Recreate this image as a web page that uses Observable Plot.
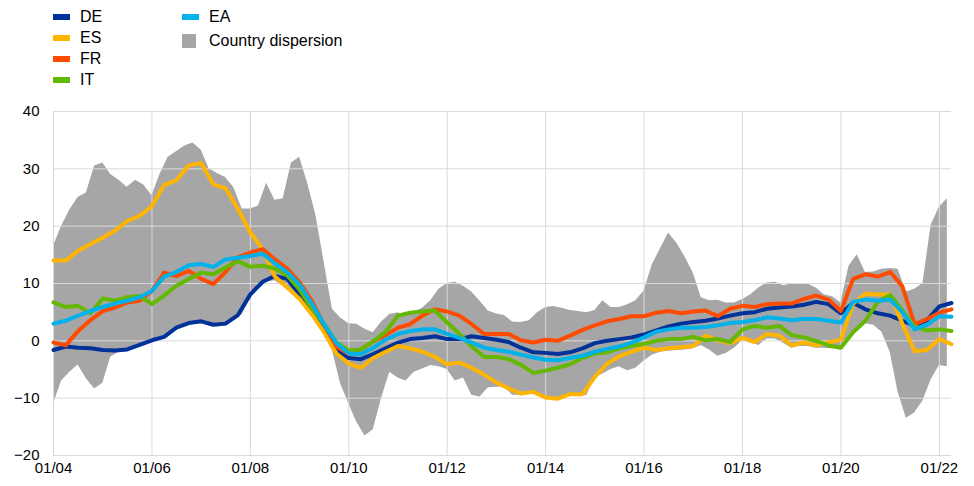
<!DOCTYPE html>
<html>
<head>
<meta charset="utf-8">
<script src="https://cdn.jsdelivr.net/npm/d3@7"></script>
<script src="https://cdn.jsdelivr.net/npm/@observablehq/plot@0.6"></script>
<style>
  body { margin: 0; background: #fff; font-family: "Liberation Sans", Arial, sans-serif; }
  #wrap { width: 974px; }
  #legend { position: relative; width: 974px; height: 95px; font-size: 16px; color: #000; }
  .sw { position: absolute; }
  .lt { position: absolute; line-height: 18px; white-space: nowrap; }
  svg { display: block; }
</style>
</head>
<body>
<div id="wrap">
  <div id="legend"></div>
  <div id="chart"></div>
</div>
<script>
// ---- Data ----
// Lines: quarterly observations starting Jan 2004 (74 quarters, to Apr 2022)
const lineStart = [2004, 0];           // year, month index
const lineStepMonths = 3;
const DE = [-1.6,-1.0,-1.2,-1.3,-1.6,-1.7,-1.5,-0.7,0.1,0.7,
  2.3,3.1,3.4,2.8,3.0,4.5,8.1,10.3,11.3,10.8,
  8.1,5.2,1.8,-1.5,-3.0,-3.2,-2.3,-1.3,-0.3,0.3,
  0.5,0.8,0.3,0.3,0.8,0.5,0.2,-0.2,-1.2,-2.0,
  -2.1,-2.3,-2.0,-1.3,-0.4,0.0,0.3,0.6,1.1,1.8,
  2.5,3.0,3.3,3.5,3.9,4.4,4.8,5.0,5.6,5.8,
  6.0,6.3,6.8,6.4,4.8,6.6,5.5,4.8,4.4,3.5,
  2.7,3.6,6.0,6.6];
const ES = [14.0,14.0,15.7,16.9,18.0,19.2,20.9,21.8,23.5,27.2,
  28.0,30.6,31.0,27.3,26.6,23.0,18.9,16.0,11.2,9.3,
  7.3,4.6,1.5,-2.2,-4.0,-4.7,-3.0,-1.9,-0.9,-1.3,
  -1.9,-2.8,-4.1,-3.8,-4.7,-5.9,-7.3,-8.3,-9.2,-8.9,
  -9.9,-10.1,-9.3,-9.3,-6.3,-4.0,-2.7,-1.9,-1.2,-1.6,
  -1.3,-1.1,-0.9,0.9,0.1,-0.4,0.5,-0.2,1.2,0.9,
  -0.8,-0.3,-0.8,-0.3,0.2,6.5,8.2,8.1,8.1,3.0,
  -1.8,-1.6,0.3,-0.6];
const FR = [-0.3,-0.8,1.7,3.6,5.2,5.8,6.7,7.0,8.7,11.9,
  11.3,12.2,10.8,9.9,12.0,14.6,15.4,16.0,14.2,12.6,
  10.2,7.0,2.8,-1.0,-2.3,-1.5,-0.1,1.0,2.3,2.9,
  4.4,5.5,5.1,4.4,2.9,1.2,1.2,1.2,0.1,-0.3,
  0.2,0.0,0.9,1.9,2.7,3.4,3.8,4.3,4.3,4.9,
  5.2,4.8,5.1,5.3,4.3,5.6,6.1,5.9,6.4,6.5,
  6.5,7.3,7.9,7.2,5.2,10.8,11.6,11.2,12.0,9.5,
  2.9,3.8,4.9,5.5];
const IT = [6.7,5.9,6.1,4.8,7.4,7.0,7.6,7.8,6.4,7.9,
  9.6,10.8,11.9,11.6,12.8,13.9,12.9,13.1,12.6,11.4,
  8.9,5.7,2.9,-0.3,-1.7,-1.5,-0.1,1.6,4.4,4.9,
  5.1,5.3,3.2,1.2,-1.0,-2.8,-2.8,-3.2,-4.2,-5.6,
  -5.2,-4.7,-4.1,-3.0,-2.2,-2.0,-1.3,-0.9,-0.5,0.0,
  0.3,0.3,0.7,0.1,0.3,-0.2,2.0,2.6,2.3,2.6,
  1.0,0.6,0.0,-0.8,-1.2,1.5,3.5,6.8,8.0,5.3,
  2.5,1.8,2.0,1.7];
const EA = [3.0,3.5,4.4,5.2,5.9,6.5,7.0,7.6,8.7,11.2,
  12.0,13.2,13.4,12.9,14.2,14.5,14.8,15.2,13.5,12.0,
  9.8,6.5,2.9,-0.4,-2.2,-2.3,-1.2,0.2,1.2,1.7,
  2.0,2.0,1.2,0.5,-0.3,-1.2,-1.6,-1.9,-2.4,-2.9,
  -3.3,-3.4,-3.0,-2.6,-1.9,-1.4,-1.0,-0.3,0.6,1.6,
  2.0,2.3,2.3,2.4,2.7,3.1,3.3,3.6,4.1,3.9,
  3.6,3.8,3.8,3.5,3.2,6.8,7.2,7.0,7.2,5.0,
  2.0,2.8,4.3,4.2];

// Country dispersion band: bi-monthly observations starting Jan 2004 (110 points)
const bandStart = [2004, 0];
const bandStepMonths = 2;
const bandHigh = [16.5,20.0,22.8,25.0,25.8,30.5,31.0,29.0,28.0,26.8,
  28.0,27.2,25.3,29.0,32.0,33.0,34.0,34.5,33.3,30.0,
  29.2,28.5,26.7,23.0,23.0,23.5,27.5,24.5,24.8,31.0,
  32.0,27.5,22.0,13.8,5.5,4.0,3.0,2.9,2.0,1.4,
  3.3,4.6,4.9,4.4,5.0,5.7,7.0,9.0,10.0,10.2,
  9.5,8.5,6.9,5.2,4.7,4.4,3.3,3.2,3.5,4.9,
  5.8,6.0,5.7,5.3,5.1,4.9,5.3,7.0,5.8,5.8,
  6.3,7.0,8.7,13.2,16.0,18.8,17.0,14.6,11.8,7.5,
  7.0,7.1,6.6,6.6,7.2,8.0,9.2,10.1,10.2,9.6,
  9.9,9.9,9.9,9.2,8.0,7.7,6.6,13.0,15.0,11.9,
  12.0,12.5,12.6,12.5,8.5,9.0,10.0,20.2,23.3,24.8];
const bandLow = [-11.0,-7.0,-5.5,-4.2,-6.6,-8.4,-7.4,-2.8,-2.0,-1.8,
  -1.2,-0.8,-0.2,0.2,1.2,2.0,2.7,3.0,3.0,2.9,
  2.4,2.6,4.0,4.5,7.5,9.0,10.2,10.5,9.5,8.3,
  7.0,5.5,3.5,1.0,-1.7,-7.5,-11.0,-14.2,-16.6,-15.5,
  -10.0,-5.5,-6.5,-7.0,-5.5,-4.9,-4.3,-4.5,-5.0,-7.0,
  -6.5,-9.5,-9.8,-8.2,-8.1,-8.0,-9.5,-9.5,-9.2,-9.3,
  -10.0,-10.5,-9.8,-9.3,-9.4,-9.6,-6.5,-5.8,-5.0,-4.5,
  -5.2,-4.8,-3.5,-2.5,-2.0,-1.8,-1.7,-1.6,-1.4,-0.8,
  -1.6,-2.7,-2.2,-1.3,0.0,-0.3,-0.8,0.3,0.3,-0.4,
  -1.3,-1.0,-1.0,-1.3,-1.3,-1.4,-1.6,0.5,2.0,3.0,
  2.7,1.5,-2.0,-9.0,-13.5,-12.6,-10.5,-6.8,-4.3,-4.5];

// Axis ticks
const xTickYears = [2004, 2006, 2008, 2010, 2012, 2014, 2016, 2018, 2020, 2022];
const yTicks = [-20, -10, 0, 10, 20, 30, 40];
const xDomainEnd = [2022, 3];

// Series meta
const seriesNames = ["DE", "ES", "FR", "IT", "EA"];
const seriesColors = ["#003299", "#ffb400", "#ff4b00", "#65b800", "#00b1ea"];
const bandLabel = "Country dispersion";
const bandColor = "#a6a6a6";

// ---- Build tables ----
const utc = (y, m) => new Date(Date.UTC(y, m, 1));
const seriesValues = {DE, ES, FR, IT, EA};
const lineRows = seriesNames.map(name =>
  seriesValues[name].map((v, i) => ({date: utc(lineStart[0], lineStart[1] + i * lineStepMonths), value: v, series: name}))
);
const bandRows = bandHigh.map((h, i) => ({date: utc(bandStart[0], bandStart[1] + i * bandStepMonths), high: h, low: bandLow[i]}));
const xTicks = xTickYears.map(y => utc(y, 0));

// ---- Legend ----
const legend = document.getElementById("legend");
const legendCol1 = ["DE", "ES", "FR", "IT"];
const rowCenters = [17, 38, 59, 80];
legendCol1.forEach((name, i) => {
  const c = seriesColors[seriesNames.indexOf(name)];
  legend.insertAdjacentHTML("beforeend",
    `<div class="sw" style="left:53px;top:${rowCenters[i]-3}px;width:17px;height:6px;background:${c}"></div>` +
    `<div class="lt" style="left:80px;top:${rowCenters[i]-9}px">${name}</div>`);
});
legend.insertAdjacentHTML("beforeend",
  `<div class="sw" style="left:182px;top:14px;width:17px;height:6px;background:${seriesColors[4]}"></div>` +
  `<div class="lt" style="left:209px;top:8px">EA</div>` +
  `<div class="sw" style="left:182px;top:34px;width:14px;height:14px;background:${bandColor}"></div>` +
  `<div class="lt" style="left:209px;top:32px">${bandLabel}</div>`);

// ---- Chart ----
const gridColor = "#d9d9d9";
const chart = Plot.plot({
  width: 974,
  height: 391,
  marginTop: 16,
  marginBottom: 31,
  marginLeft: 53,
  marginRight: 23,
  style: {fontFamily: "'Liberation Sans', Arial, sans-serif", fontSize: "15px", color: "#000", background: "#fff"},
  x: {type: "utc", domain: [utc(2004, 0), utc(xDomainEnd[0], xDomainEnd[1])]},
  y: {domain: [-20, 40]},
  marks: [
    Plot.areaY(bandRows, {x: "date", y1: "low", y2: "high", fill: bandColor, curve: "linear"}),
    Plot.gridX(xTicks, {stroke: gridColor, strokeOpacity: 1, strokeWidth: 1}),
    Plot.gridY(yTicks, {stroke: gridColor, strokeOpacity: 1, strokeWidth: 1}),
    ...lineRows.map((rows, i) => Plot.line(rows, {x: "date", y: "value", stroke: seriesColors[i], strokeWidth: 4, curve: "linear"})),
    Plot.axisX(xTicks, {tickFormat: d3.utcFormat("%m/%y"), tickSize: 0, tickPadding: 7, label: null, fontSize: 15}),
    Plot.axisY(yTicks, {tickSize: 0, tickPadding: 14, label: null, fontSize: 15})
  ]
});
document.getElementById("chart").appendChild(chart);
</script>
</body>
</html>
